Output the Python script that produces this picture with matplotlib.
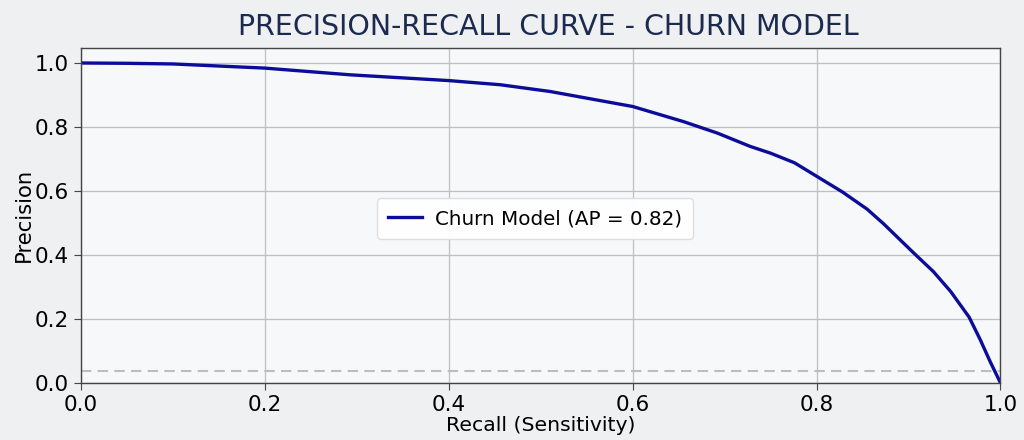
import numpy as np
import matplotlib
matplotlib.use("Agg")
import matplotlib.pyplot as plt

# Precision-recall points
recall = [0.0, 0.05, 0.1, 0.2, 0.293, 0.4, 0.456, 0.51, 0.6, 0.655, 0.692,
          0.728, 0.75, 0.776, 0.8, 0.828, 0.855, 0.873, 0.906, 0.927, 0.946,
          0.966, 0.978, 0.989, 1.0]
precision = [1.0, 0.999, 0.997, 0.984, 0.963, 0.945, 0.932, 0.911, 0.864,
             0.817, 0.781, 0.739, 0.718, 0.688, 0.646, 0.597, 0.543, 0.497,
             0.405, 0.348, 0.285, 0.205, 0.135, 0.065, 0.0]
baseline = 0.037
model_label = "Churn Model (AP = 0.82)"

fig = plt.figure(figsize=(10.24, 4.4), dpi=100, facecolor="#eff0f2")
ax = fig.add_axes([0.079, 0.130, 0.898, 0.761])
ax.set_facecolor("#f7f8f9")

ax.plot(recall, precision, color="#0c0c9a", lw=2.4, label=model_label,
        solid_joinstyle="round")
ax.axhline(baseline, color="#bdbdbd", lw=1.5, ls=(0, (5, 3)))

ax.set_xlim(0, 1)
ax.set_ylim(0, 1.047)
ax.set_xticks(np.arange(0, 1.01, 0.2))
ax.set_yticks(np.arange(0, 1.01, 0.2))
ax.grid(True, color="#bfbfbf", lw=0.9)
ax.set_axisbelow(True)
for s in ax.spines.values():
    s.set_color("#444444")
    s.set_linewidth(1.0)
ax.tick_params(labelsize=15.5, length=5, color="#444444")

ax.set_xlabel("Recall (Sensitivity)", fontsize=14.7, labelpad=1)
ax.set_ylabel("Precision", fontsize=15.2, labelpad=1)
ax.set_title("PRECISION-RECALL CURVE - CHURN MODEL", fontsize=20.5,
             color="#1b2a4e", pad=9, x=0.508)

leg = ax.legend(loc="center", bbox_to_anchor=(0.494, 0.49), fontsize=14.3,
                framealpha=0.95, edgecolor="#dddddd", handlelength=1.7,
                handletextpad=0.65, borderpad=0.55)

fig.savefig("out.png", dpi=100, facecolor=fig.get_facecolor())
